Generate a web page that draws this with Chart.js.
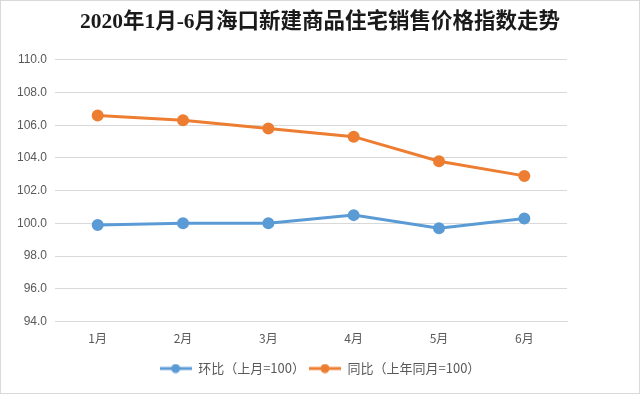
<!DOCTYPE html>
<html>
<head>
<meta charset="utf-8">
<script src="https://cdn.jsdelivr.net/npm/chart.js@4"></script>
<style>
    html, body { margin: 0; padding: 0; background: #fff; }
    #wrap { width: 638px; height: 392px; border: 1px solid #d9d9d9; position: relative; }
</style>
</head>
<body>
<div id="wrap"><canvas id="priceChart" width="638" height="392"></canvas></div>
<script>
// Chart data
const months = ['1月', '2月', '3月', '4月', '5月', '6月'];
const monthOnMonth = [99.9, 100.0, 100.0, 100.5, 99.7, 100.3];
const yearOnYear = [106.6, 106.3, 105.8, 105.3, 103.8, 102.9];
const seriesNames = ['环比（上月=100）', '同比（上年同月=100）'];
const titleText = '2020年1月-6月海口新建商品住宅销售价格指数走势';

const blue = '#5B9BD5';
const orange = '#ED7D31';

// Legend marker: short line with a dot in the middle
function legendMarker(color) {
    const c = document.createElement('canvas');
    c.width = 32;
    c.height = 10;
    const ctx = c.getContext('2d');
    ctx.strokeStyle = color;
    ctx.lineWidth = 3;
    ctx.beginPath();
    ctx.moveTo(0, 5);
    ctx.lineTo(32, 5);
    ctx.stroke();
    ctx.fillStyle = color;
    ctx.beginPath();
    ctx.arc(16, 5, 4.5, 0, Math.PI * 2);
    ctx.fill();
    return c;
}

const ctx = document.getElementById('priceChart').getContext('2d');
new Chart(ctx, {
    type: 'line',
    data: {
        labels: months,
        datasets: [{
            label: seriesNames[0],
            data: monthOnMonth,
            borderColor: blue,
            backgroundColor: blue,
            borderWidth: 3,
            pointRadius: 4.5,
            pointStyle: 'circle',
            tension: 0
        }, {
            label: seriesNames[1],
            data: yearOnYear,
            borderColor: orange,
            backgroundColor: orange,
            borderWidth: 3,
            pointRadius: 4.5,
            pointStyle: 'circle',
            tension: 0
        }]
    },
    options: {
        responsive: false,
        animation: false,
        layout: { padding: { left: 8, right: 8, top: 6, bottom: 8 } },
        plugins: {
            title: {
                display: true,
                text: titleText,
                color: '#1a1a1a',
                font: { family: '"Liberation Serif", "Noto Sans CJK SC", serif', size: 21.5, weight: 'bold' },
                padding: { top: 3, bottom: 24 }
            },
            legend: {
                position: 'bottom',
                // empty legend title, only adds space between the axis labels and the legend
                title: { display: true, text: '', font: { size: 1 }, padding: { top: 5, bottom: 4 } },
                labels: {
                    usePointStyle: true,
                    pointStyleWidth: 32,
                    boxWidth: 32,
                    color: '#595959',
                    font: { family: '"Noto Sans CJK SC", sans-serif', size: 13 },
                    padding: 4,
                    generateLabels: (chart) => chart.data.datasets.map((ds, i) => ({
                        text: ds.label,
                        fontColor: '#595959',
                        pointStyle: legendMarker(ds.borderColor),
                        datasetIndex: i,
                        hidden: false,
                        lineWidth: 0
                    }))
                }
            },
            tooltip: { enabled: false }
        },
        scales: {
            x: {
                offset: true,
                grid: { display: false },
                border: { color: '#d9d9d9' },
                ticks: {
                    color: '#595959',
                    font: { family: '"Noto Sans CJK SC", sans-serif', size: 12 },
                    padding: 2
                }
            },
            y: {
                min: 94,
                max: 110,
                border: { display: false },
                grid: { color: '#d9d9d9', drawTicks: false },
                ticks: {
                    stepSize: 2,
                    color: '#595959',
                    font: { family: '"Liberation Sans", sans-serif', size: 12 },
                    padding: 8,
                    callback: (v) => v.toFixed(1)
                }
            },
            // empty right axis, only reserves the white space right of the plot
            yRight: {
                position: 'right',
                min: 94,
                max: 110,
                grid: { display: false },
                border: { display: false },
                ticks: { display: false },
                afterFit: (scale) => { scale.width = 64; }
            }
        }
    }
});
</script>
</body>
</html>
